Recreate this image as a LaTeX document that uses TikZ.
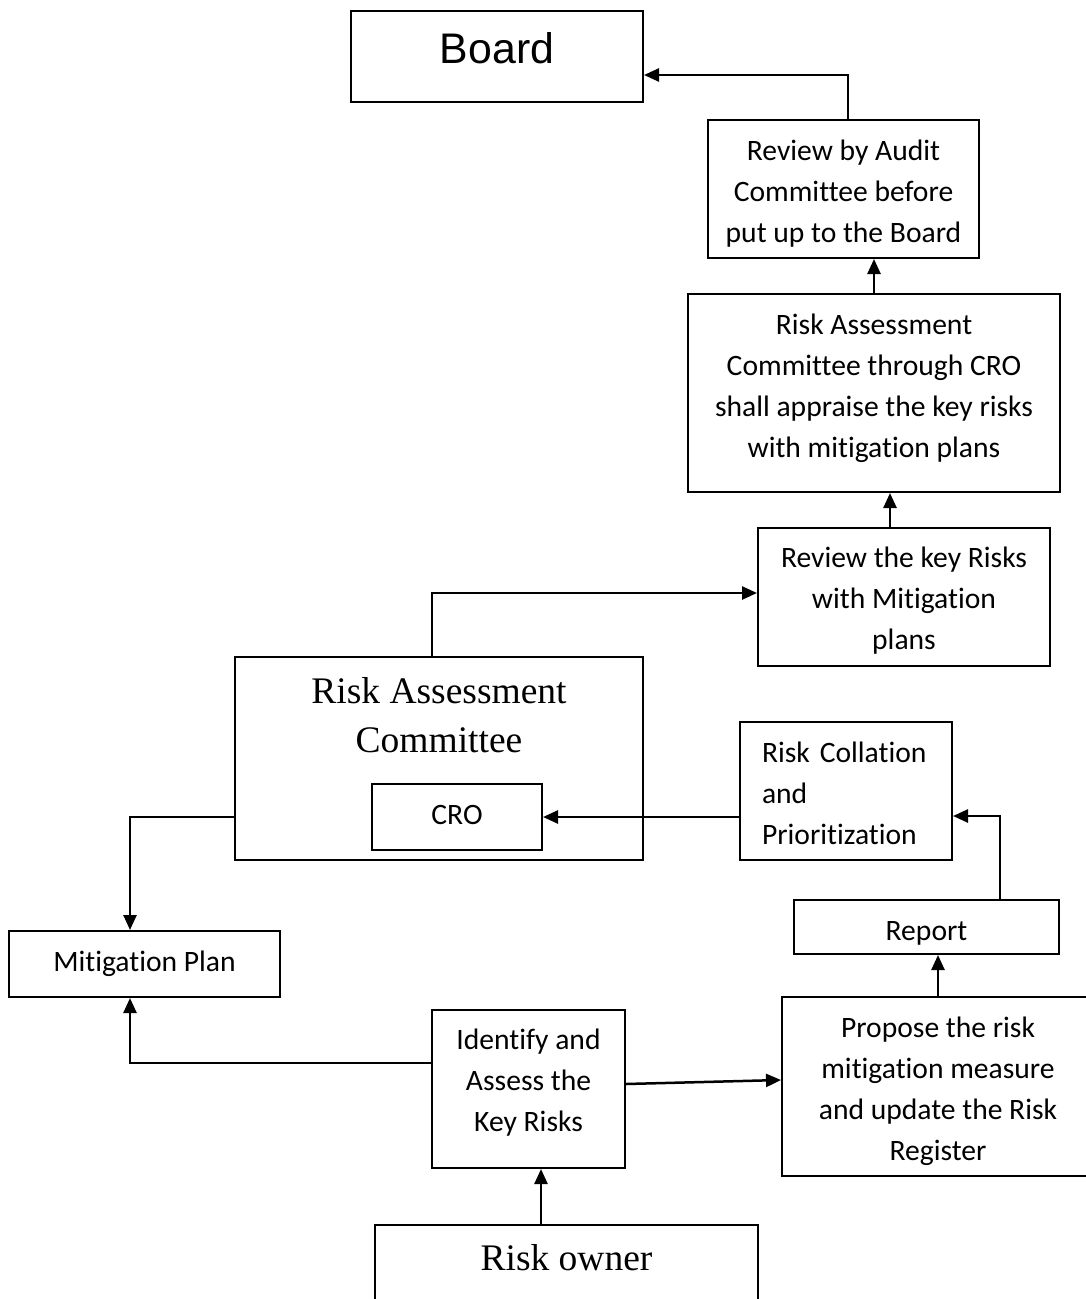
\documentclass[tikz,border=0pt]{standalone}
\usepackage{fontspec}
\setmainfont[Ligatures=NoCommon]{Carlito}
\newfontfamily\arialfont{Liberation Sans}
\newfontfamily\timesfont{Liberation Serif}
\usetikzlibrary{arrows.meta, calc}

\begin{document}
\begin{tikzpicture}[x=1pt, y=-1pt,
  frame/.style={draw, line width=2pt, inner sep=0pt, align=center},
  txt/.style={inner sep=0pt, align=center, font=\fontsize{29.6}{41}\selectfont},
  arr/.style={line width=2.5pt, -{Triangle[length=15pt,width=13pt]}}]
\useasboundingbox (0,0) rectangle (1085,1299);
% boxes
\node[frame, minimum width=292pt, minimum height=91pt] (board) at (497,56.5)
  {\arialfont\fontsize{42.8}{48}\selectfont\raisebox{17pt}{Board}};
\node[frame, minimum width=271pt, minimum height=138pt,
  label={[txt, yshift=-5pt]center:{Review by Audit\\Committee before\\put up to the Board}}]
  (audit) at (843.5,189) {};
\node[frame, minimum width=372pt, minimum height=198pt,
  label={[txt, yshift=4.5pt]center:{Risk Assessment\\Committee through CRO\\shall appraise the key risks\\with mitigation plans}}]
  (racplan) at (874,393) {};
\node[frame, minimum width=292pt, minimum height=138pt,
  label={[txt, yshift=-4pt]center:{Review the key Risks\\with Mitigation\\plans}}]
  (reviewkey) at (904,597) {};
\node[frame, minimum width=408pt, minimum height=203pt] (rac) at (439,758.5) {};
\node[align=center, font=\timesfont\fontsize{37.5}{49}\selectfont] (ractitle) at (439,715)
  {Risk Assessment\\Committee};
\node[frame, minimum width=170pt, minimum height=66pt,
  label={[txt, yshift=2pt]center:CRO}] (cro) at (457,817) {};
\node[frame, minimum width=212pt, minimum height=138pt,
  label={[txt, yshift=-2.5pt, text width=168pt, align=left]center:{Risk Collation\\and\\Prioritization}}]
  (collation) at (846,791) {};
\node[frame, minimum width=265pt, minimum height=54pt,
  label={[txt, yshift=-6pt]center:Report}] (report) at (926.5,927) {};
\node[frame, minimum width=312pt, minimum height=179pt,
  label={[txt, yshift=-4.5pt]center:{Propose the risk\\mitigation measure\\and update the Risk\\Register}}]
  (propose) at (938,1086.5) {};
\node[frame, minimum width=271pt, minimum height=66pt,
  label={[txt]center:Mitigation Plan}] (mitigation) at (144.5,964) {};
\node[frame, minimum width=193pt, minimum height=158pt,
  label={[txt, yshift=6pt]center:{Identify and\\Assess the\\Key Risks}}]
  (identify) at (528.5,1089) {};
\node[frame, minimum width=383pt, minimum height=110pt] (owner) at (566.5,1280)
  {\timesfont\fontsize{37.5}{44}\selectfont\raisebox{46pt}{Risk owner}};
% connectors
\coordinate (audittop) at ([xshift=4.5pt]audit.north);
\draw[arr] (audittop) |- ([yshift=-18.5pt]board.east);
\draw[arr] (racplan.north) -- (racplan.north |- audit.south);
\coordinate (keytop) at ([xshift=-14pt]reviewkey.north);
\draw[arr] (keytop) -- (keytop |- racplan.south);
\coordinate (ractop) at ([xshift=-7pt]rac.north);
\draw[arr] (ractop) |- ([yshift=4pt]reviewkey.west);
\draw[arr] (cro.east -| collation.west) -- (cro.east);
\coordinate (mittop) at ([xshift=-14.5pt]mitigation.north);
\draw[arr] (rac.west |- cro.east) -| (mittop);
\coordinate (reporttop) at ([xshift=73.5pt]report.north);
\draw[arr] (reporttop) |- ([yshift=-25pt]collation.east);
\draw[arr] (propose.north) -- (propose.north |- report.south);
\coordinate (mitbottom) at ([xshift=-14.5pt]mitigation.south);
\draw[arr] ([yshift=26pt]identify.west) -| (mitbottom);
\draw[arr] ([yshift=5pt]identify.east) -- ([yshift=6.5pt]propose.west);
\coordinate (ownertop) at ([xshift=-25.5pt]owner.north);
\draw[arr] (ownertop) -- (ownertop |- identify.south);
\end{tikzpicture}
\end{document}
